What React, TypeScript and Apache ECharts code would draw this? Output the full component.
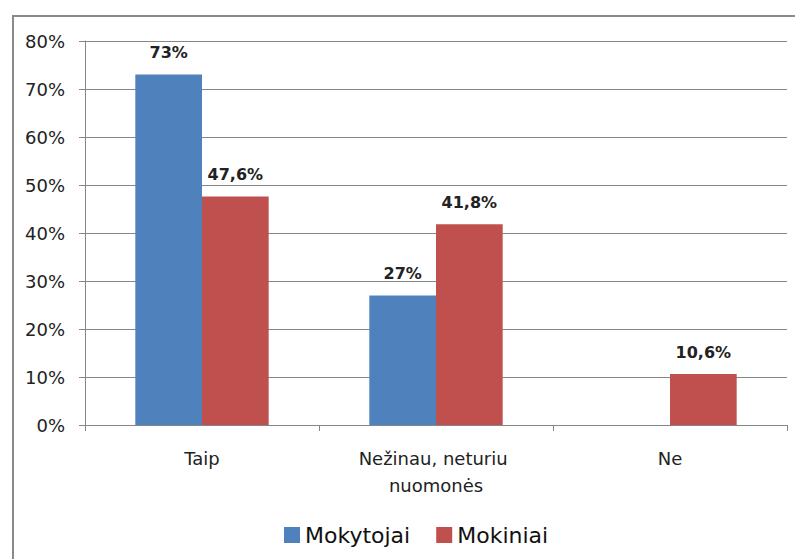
import React, { useEffect, useRef } from "react";
import * as echarts from "echarts";

const categories = ["Taip", "Nežinau, neturiu nuomonės", "Ne"];
const mokytojai = [73, 27, 0];
const mokiniai = [47.6, 41.8, 10.6];
const seriesNames = ["Mokytojai", "Mokiniai"];
const yTicks = [0, 10, 20, 30, 40, 50, 60, 70, 80];

const FONT = "DejaVu Sans";

export default function App() {
  const ref = useRef<HTMLDivElement>(null);
  useEffect(() => {
    if (!ref.current) return;
    const chart = echarts.init(ref.current, undefined, { renderer: "svg" });
    const fmt = (p: any) => (p.value ? String(p.value).replace(".", ",") + "%" : "");
    chart.setOption({
      animation: false,
      backgroundColor: "#ffffff",
      textStyle: { fontFamily: FONT },
      graphic: [
        {
          type: "rect",
          shape: { x: 13, y: 16, width: 820, height: 600 },
          style: { fill: "none", stroke: "#8a8a8a", lineWidth: 2 },
          silent: true,
        },
      ],
      grid: { left: 85, right: 8, top: 41, bottom: 134, containLabel: false },
      legend: {
        data: seriesNames,
        left: 279,
        top: 519,
        itemWidth: 16,
        itemHeight: 16,
        itemGap: 26,
        icon: "rect",
        textStyle: { fontSize: 22, color: "#111", fontFamily: FONT },
      },
      xAxis: {
        type: "category",
        data: categories,
        axisLine: { lineStyle: { color: "#868686", width: 1 } },
        axisTick: { show: true, length: 6, lineStyle: { color: "#868686" } },
        axisLabel: {
          interval: 0,
          color: "#222",
          fontSize: 18,
          margin: 20,
          width: 175,
          overflow: "break",
          lineHeight: 27,
          fontFamily: FONT,
        },
      },
      yAxis: {
        type: "value",
        min: 0,
        max: yTicks[yTicks.length - 1],
        interval: 10,
        axisLine: { show: true, lineStyle: { color: "#868686", width: 1 } },
        axisTick: { show: true, length: 6, lineStyle: { color: "#868686" } },
        splitLine: { show: true, lineStyle: { color: "#868686", width: 1 } },
        axisLabel: {
          formatter: (v: number) => v + "%",
          color: "#222",
          fontSize: 18,
          margin: 20,
          fontFamily: FONT,
        },
      },
      series: [
        {
          name: seriesNames[0],
          type: "bar",
          data: mokytojai,
          barGap: "0%",
          barCategoryGap: "43%",
          itemStyle: { color: "#4F81BD" },
          label: {
            show: true,
            position: "top",
            distance: 14,
            formatter: fmt,
            fontWeight: "bold",
            fontSize: 16,
            color: "#222",
            fontFamily: FONT,
          },
        },
        {
          name: seriesNames[1],
          type: "bar",
          data: mokiniai,
          barGap: "0%",
          barCategoryGap: "43%",
          itemStyle: { color: "#C0504D" },
          label: {
            show: true,
            position: "top",
            distance: 14,
            formatter: fmt,
            fontWeight: "bold",
            fontSize: 16,
            color: "#222",
            fontFamily: FONT,
          },
        },
      ],
    });
    return () => chart.dispose();
  }, []);
  return (
    <div
      ref={ref}
      style={{ position: "fixed", left: 0, top: 0, width: 795, height: 559 }}
    />
  );
}
